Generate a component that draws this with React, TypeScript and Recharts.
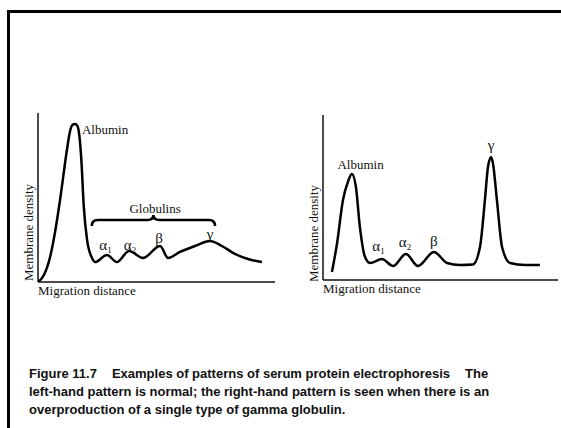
import React from "react";
import { LineChart, Line, XAxis, YAxis, ReferenceDot, ReferenceArea, ReferenceLine } from "recharts";

// normal serum pattern (x = migration distance, y = membrane density, both 0-100)
const normalDistance = [0, 2.5, 5.1, 7.2, 9.3, 12.2, 13.4, 14.6, 15.6, 16.6, 17.5, 18.3, 19.3, 20.7, 22.8, 24.1, 29.1, 33.3, 38.4, 44.3, 51.5, 54.9, 59.9, 66.2, 72.6, 77.6, 83.1, 88.6, 94.5];
const normalDensity = [0, 4.1, 14.8, 29.6, 48.5, 78.1, 88.5, 93.0, 93.5, 92.5, 86.0, 72.0, 45.0, 24.9, 14.2, 11.8, 16.0, 11.8, 18.3, 14.2, 21.3, 14.2, 17.8, 21.3, 24.3, 21.3, 16.6, 13.6, 11.8];

// monoclonal gamma pattern
const gammaDistance = [3.8, 6.0, 8.5, 10.6, 12.3, 14.0, 15.7, 17.9, 20.0, 25.1, 29.8, 35.3, 40.4, 47.2, 52.8, 58.3, 63.8, 66.8, 68.9, 70.2, 71.5, 72.3, 74.0, 76.2, 79.6, 86.0, 92.3];
const gammaDensity = [4.8, 22.4, 48.5, 59.5, 64.2, 56.5, 32.1, 13.9, 10.3, 12.7, 8.5, 15.8, 8.5, 17.0, 10.3, 9.1, 9.4, 20.0, 48.5, 68.5, 74.5, 70.9, 48.5, 20.0, 10.3, 9.1, 9.1];

// peak labels
const peakNames = ["Albumin", "α", "α", "β", "γ"];
const peakSubs = ["", "1", "2", "", ""];
const normalLabelX = [28.3, 28.5, 38.8, 51.1, 72.6];
const normalLabelY = [87.6, 19.2, 19.2, 22.9, 25.4];
const gammaLabelX = [16.0, 23.6, 34.9, 47.2, 71.5];
const gammaLabelY = [67.3, 17.6, 19.7, 20.6, 78.8];

// globulin brace (left chart)
const braceX = [22.7, 74.7];
const braceY = [33.1, 39.6];
const braceText = "Globulins";
const braceTextPos = [49.4, 40.8];

const xTitle = "Migration distance";
const yTitle = "Membrane density";
const captionLines = [
  ["Figure 11.7", "Examples of patterns of serum protein electrophoresis", "The"],
  ["left-hand pattern is normal; the right-hand pattern is seen when there is an"],
  ["overproduction of a single type of gamma globulin."],
];

const SERIF = "'Liberation Serif', 'Times New Roman', serif";
const SANS = "'Liberation Sans', Arial, sans-serif";

const toRows = (xs: number[], ys: number[]) => xs.map((x, i) => ({ x, y: ys[i] }));

function PeakText({ cx, cy, text, sub }: any) {
  return (
    <text x={cx} y={cy} textAnchor="middle" fontFamily={SERIF} fontSize={text.length > 1 ? 13 : 15} fill="#111">
      {text}
      {sub ? (
        <tspan fontSize={9} dy={3}>
          {sub}
        </tspan>
      ) : null}
    </text>
  );
}

function Brace({ x, y, width, height }: any) {
  const m = y + height * 0.45;
  const c = x + width / 2;
  const d = `M${x},${y + height} Q${x},${m} ${x + 6},${m} L${c - 6},${m} Q${c},${m} ${c},${y} Q${c},${m} ${c + 6},${m} L${x + width - 6},${m} Q${x + width},${m} ${x + width},${y + height}`;
  return <path d={d} fill="none" stroke="#000" strokeWidth={2.6} />;
}

function AxisTitles({ left, axisY, titleX, titleCy }: any) {
  return (
    <>
      <div
        style={{
          position: "absolute", left, top: axisY + 2, fontFamily: SERIF, fontSize: 13,
          lineHeight: "13px", color: "#111", whiteSpace: "nowrap",
        }}
      >
        {xTitle}
      </div>
      <div
        style={{
          position: "absolute", left: titleX - 60, top: titleCy - 6.5, width: 120, textAlign: "center",
          fontFamily: SERIF, fontSize: 13, lineHeight: "13px", color: "#111", whiteSpace: "nowrap",
          transform: "rotate(-90deg)", transformOrigin: "center",
        }}
      >
        {yTitle}
      </div>
    </>
  );
}

function Pattern({ rows, labelX, labelY, width, height, margin, brace }: any) {
  return (
    <LineChart width={width} height={height} data={rows} margin={margin}>
      <XAxis type="number" dataKey="x" domain={[0, 100]} allowDataOverflow hide />
      <YAxis type="number" domain={[0, 100]} allowDataOverflow hide />
      <ReferenceLine y={0} stroke="#111" strokeWidth={1.5} ifOverflow="visible" />
      <ReferenceLine x={0} stroke="#111" strokeWidth={1.5} ifOverflow="visible" />
      <Line type="monotone" dataKey="y" stroke="#000" strokeWidth={2.5} dot={false} isAnimationActive={false} />
      {brace ? (
        <ReferenceArea x1={braceX[0]} x2={braceX[1]} y1={braceY[0]} y2={braceY[1]} shape={(p: any) => <Brace {...p} />} />
      ) : null}
      {brace ? (
        <ReferenceDot x={braceTextPos[0]} y={braceTextPos[1]} r={0}
          shape={(p: any) => <PeakText {...p} text={braceText} sub="" />} />
      ) : null}
      {peakNames.map((name, i) => (
        <ReferenceDot key={i} x={labelX[i]} y={labelY[i]} r={0}
          shape={(p: any) => <PeakText {...p} text={name} sub={peakSubs[i]} />} />
      ))}
    </LineChart>
  );
}

export default function App() {
  return (
    <div style={{ position: "absolute", left: 0, top: 0, width: 561, height: 428, overflow: "hidden", background: "#fff" }}>
      <div style={{ position: "absolute", left: 7, top: 10, width: 620, height: 480, borderLeft: "3px solid #000", borderTop: "3px solid #000" }} />

      <div style={{ position: "absolute", left: 0, top: 100 }}>
        <Pattern rows={toRows(normalDistance, normalDensity)} labelX={normalLabelX} labelY={normalLabelY}
          width={280} height={200} margin={{ top: 13, left: 38, right: 5, bottom: 18 }} brace />
      </div>
      <AxisTitles left={38} axisY={282} titleX={28} titleCy={232} />

      <div style={{ position: "absolute", left: 280, top: 100 }}>
        <Pattern rows={toRows(gammaDistance, gammaDensity)} labelX={gammaLabelX} labelY={gammaLabelY}
          width={281} height={200} margin={{ top: 15, left: 43, right: 3, bottom: 20 }} />
      </div>
      <AxisTitles left={323} axisY={280} titleX={313} titleCy={233} />

      <div style={{ position: "absolute", left: 29, top: 364.5, fontFamily: SANS, fontWeight: "bold", fontSize: 13, lineHeight: "18px", color: "#111", whiteSpace: "nowrap" }}>
        {captionLines.map((parts, i) => (
          <div key={i}>
            {parts.map((t, j) => (
              <span key={j} style={{ marginLeft: j > 0 ? 15 : 0 }}>{t}</span>
            ))}
          </div>
        ))}
      </div>
    </div>
  );
}
